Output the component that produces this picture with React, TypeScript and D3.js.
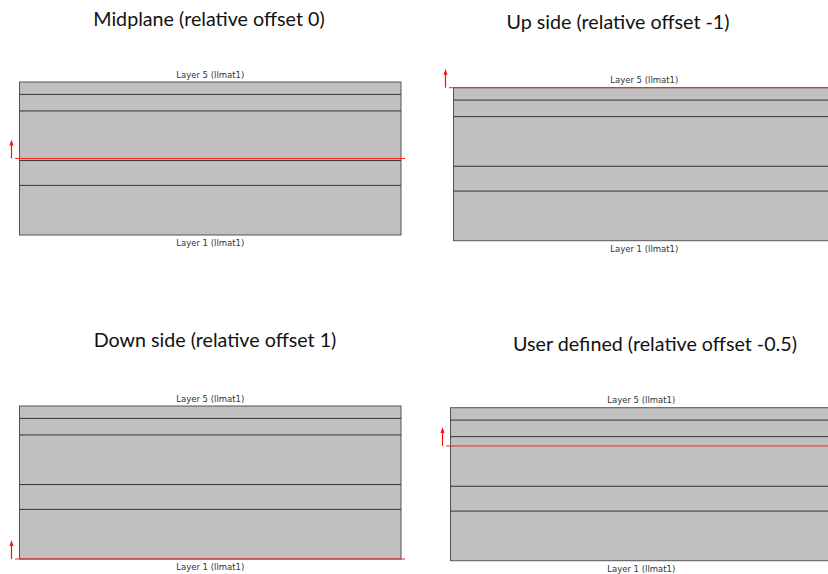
import React from "react";
import * as d3 from "d3";

// Layer thicknesses from bottom (Layer 1) to top (Layer 5)
const layerThickness = [1.2, 0.6, 1.2, 0.4, 0.3];
const layerNames = ["Layer 1 (llmat1)", "Layer 2 (llmat1)", "Layer 3 (llmat1)", "Layer 4 (llmat1)", "Layer 5 (llmat1)"];
const panelTitles = [
  "Midplane (relative offset 0)",
  "Up side (relative offset -1)",
  "Down side (relative offset 1)",
  "User defined (relative offset -0.5)",
];
const relativeOffsets = [0, -1, 1, -0.5];

const W = 828;
const H = 574;
const RECT_W = 381.5;
const RECT_H = 153;

const layout = [
  { x: 19.5, top: 82, tx: 209, ty: 26 },
  { x: 453.5, top: 87.7, tx: 618, ty: 28.5 },
  { x: 19.5, top: 406, tx: 215, ty: 347 },
  { x: 450.5, top: 407.7, tx: 655, ty: 350.5 },
];

const total = d3.sum(layerThickness);
const cum = d3.cumsum(layerThickness);
const interfaces = Array.from(cum).slice(0, -1);

function Panel({ i }: { i: number }) {
  const L = layout[i];
  const y = d3.scaleLinear().domain([0, total]).range([L.top + RECT_H, L.top]);
  const x0 = L.x;
  const x1 = L.x + RECT_W;
  const off = relativeOffsets[i];
  const zRef = (total * (1 - off)) / 2;
  const yRef = y(zRef);
  const cx = (x0 + x1) / 2;
  const ax = x0 - 8;
  return (
    <g>
      <text x={L.tx} y={L.ty} textAnchor="middle" fontFamily="Lato, 'Open Sans', sans-serif" fontSize={19.7} fill="#111">
        {panelTitles[i]}
      </text>
      <rect x={x0} y={y(total)} width={RECT_W} height={y(0) - y(total)} fill="#c0c0c0" stroke="#555" strokeWidth={1} />
      {interfaces.map((z, k) => (
        <line key={k} x1={x0} x2={x1} y1={y(z)} y2={y(z)} stroke="#333" strokeWidth={1} />
      ))}
      <text x={cx} y={y(total) - 4.5} textAnchor="middle" fontFamily="'DejaVu Sans', sans-serif" fontSize={8.5} fill="#333">
        {layerNames[layerNames.length - 1]}
      </text>
      <text x={cx} y={y(0) + 11} textAnchor="middle" fontFamily="'DejaVu Sans', sans-serif" fontSize={8.5} fill="#333">
        {layerNames[0]}
      </text>
      <line x1={x0 - 4.5} x2={x1 + 4} y1={yRef} y2={yRef} stroke="#ff2020" strokeWidth={1} />
      <line x1={ax} x2={ax} y1={yRef} y2={yRef - 14} stroke="#ff1010" strokeWidth={1.2} />
      <path d={`M${ax - 2},${yRef - 13} L${ax + 2},${yRef - 13} L${ax},${yRef - 19} Z`} fill="#ff1010" />
    </g>
  );
}

export default function App() {
  return (
    <svg width={W} height={H} style={{ position: "absolute", left: 0, top: 0, background: "#fff" }}>
      {relativeOffsets.map((_, i) => (
        <Panel key={i} i={i} />
      ))}
    </svg>
  );
}
